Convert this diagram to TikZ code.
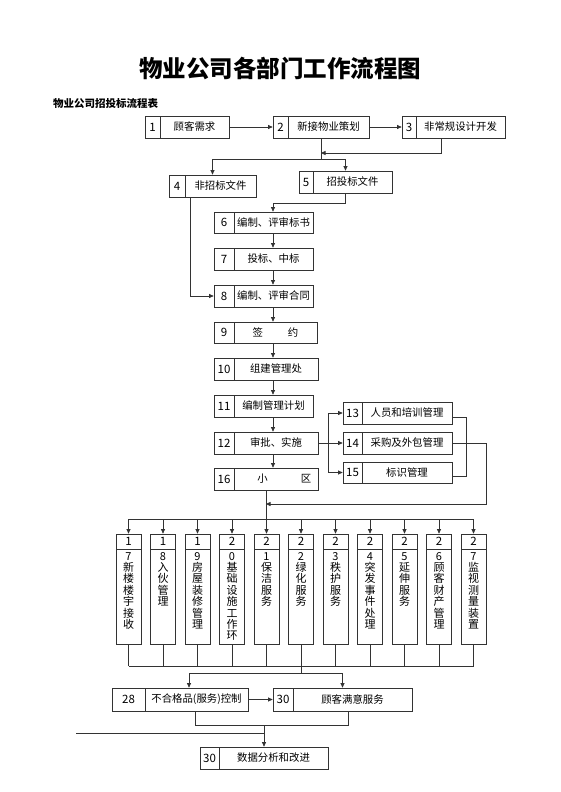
\documentclass[tikz,border=0pt]{standalone}
\usepackage{fontspec}
\setmainfont{Noto Sans CJK SC}
\usetikzlibrary{arrows.meta,calc}
\tikzset{
 ln/.style={line width=0.7pt, draw=black!80},
 arr/.style={ln, -{Triangle[length=4.5pt,width=4pt]}},
 boxst/.style={draw=black!80, line width=0.7pt, rectangle, inner sep=0pt, fill=white},
 txt/.style={inner sep=0pt, font=\fontsize{10.4}{12}\selectfont},
 numtxt/.style={inner sep=0pt, font=\fontsize{11.5}{12}\selectfont},
 vtxt/.style={inner sep=0pt, align=center, font=\fontsize{11}{11.4}\selectfont},
}
% name, x1, y1, x2, y2, xdiv, number, text
\newcommand\mkbox[8]{%
 \node[boxst, minimum width={#4-#2}, minimum height={#5-#3}] (#1) at ({(#2+#4)/2},{(#3+#5)/2}) {};
 \draw[ln] (#6,#3) -- (#6,#5);
 \node[numtxt] (#1n) at ({(#2+#6)/2},{(#3+#5)/2}) {#7};
 \node[txt] (#1t) at ({(#6+#4)/2},{(#3+#5)/2}) {#8};
}
% name, cx, digit, lines
\newcommand\mktall[4]{%
 \node[boxst, minimum width=25, minimum height=110] (#1) at (#2,589) {};
 \draw[ln] (#2-12.5,549) -- (#2+12.5,549);
 \node[numtxt] (#1d) at (#2,541.5) {#3};
 \begin{scope}
 \clip (#2-12,549.5) rectangle (#2+12,641);
 \node[vtxt, anchor=north] (#1t) at (#2,552) {#4};
 \end{scope}
}
\begin{document}
\begin{tikzpicture}[x=1pt,y=-1pt]
\useasboundingbox (0,0) rectangle (560,792);
\node[font=\fontsize{23.5}{26}\selectfont\bfseries] (title) at (280,68) {物业公司各部门工作流程图};
\node[font=\fontsize{10.5}{12}\selectfont\bfseries, anchor=west, inner sep=0pt] (sub) at (53,104) {物业公司招投标流程表};

\mkbox{b1}{145}{116}{229}{138}{160}{1}{顾客需求}
\mkbox{b2}{273}{116}{369}{138}{288}{2}{新接物业策划}
\mkbox{b3}{402}{116}{505}{138}{416}{3}{非常规设计开发}
\mkbox{b4}{169}{175}{256}{197}{185}{4}{非招标文件}
\mkbox{b5}{299}{171}{392}{193}{313}{5}{招投标文件}
\mkbox{b6}{214}{212}{313}{233}{234}{6}{编制、评审标书}
\mkbox{b7}{214}{248}{313}{270}{234}{7}{投标、中标}
\mkbox{b8}{214}{285}{313}{307}{234}{8}{编制、评审合同}
\mkbox{b9}{214}{322}{317}{343}{234}{9}{签\hspace{2.4em}约}
\mkbox{b10}{214}{358}{318}{380}{234}{10}{组建管理处}
\mkbox{b11}{214}{395}{313}{417}{234}{11}{编制管理计划}
\mkbox{b12}{214}{432}{318}{454}{234}{12}{审批、实施}
\mkbox{b16}{214}{468}{318}{490}{234}{16}{\hspace{1.6em}小\hspace{3.2em}区}
\mkbox{b13}{343}{402}{452}{424}{362}{13}{人员和培训管理}
\mkbox{b14}{343}{432}{452}{454}{362}{14}{采购及外包管理}
\mkbox{b15}{343}{462}{452}{483}{362}{15}{标识管理}

\mktall{t17}{128.5}{1}{7\\新\\楼\\楼\\宇\\接\\收}
\mktall{t18}{163}{1}{8\\入\\伙\\管\\理}
\mktall{t19}{197.5}{1}{9\\房\\屋\\装\\修\\管\\理}
\mktall{t20}{232}{2}{0\\基\\础\\设\\施\\工\\作\\环}
\mktall{t21}{266.5}{2}{1\\保\\洁\\服\\务}
\mktall{t22}{301}{2}{2\\绿\\化\\服\\务}
\mktall{t23}{335.5}{2}{3\\秩\\护\\服\\务}
\mktall{t24}{370}{2}{4\\突\\发\\事\\件\\处\\理}
\mktall{t25}{404.5}{2}{5\\延\\伸\\服\\务}
\mktall{t26}{439}{2}{6\\顾\\客\\财\\产\\管\\理}
\mktall{t27}{473.5}{2}{7\\监\\视\\测\\量\\装\\置}

\mkbox{b28}{112}{688}{248}{711}{145}{28}{不合格品(服务)控制}
\mkbox{b30}{273}{688}{412}{711}{293}{30}{顾客满意服务}
\mkbox{b31}{200}{747}{328}{769}{219}{30}{数据分析和改进}

% coordinates
\coordinate (j1) at (321,159);
\coordinate (j3) at (321,153);
\coordinate (cx) at (273,0);
\coordinate (c4) at (190,0);
\coordinate (j5) at (273,203);
\coordinate (jv) at (328,443);
\coordinate (y504) at (0,504);
\coordinate (br) at (0,519);
\coordinate (bb) at (0,666);
\coordinate (j22) at (301,673);
\coordinate (jlow) at (0,725);
\coordinate (lf) at (76,733);

% top connectors
\draw[arr] (b1.east) -- (b2.west);
\draw[arr] (b2.east) -- (b3.west);
\draw[ln] (b2.south) -- (j1);
\draw[arr] ([xshift=-12pt]b3.south) |- (j3);
\draw[arr] (j1) -| (b4.north);
\draw[arr] (j1) -| (b5.north);
\draw[arr] (b5.south) |- (j5) -- (b6.north -| cx);
\draw[arr] (b4.south -| c4) |- (b8.west);
\draw[arr] (b6.south -| cx) -- (b7.north -| cx);
\draw[arr] (b7.south -| cx) -- (b8.north -| cx);
\draw[arr] (b8.south -| cx) -- (b9.north -| cx);
\draw[arr] (b9.south -| cx) -- (b10.north -| cx);
\draw[arr] (b10.south -| cx) -- (b11.north -| cx);
\draw[arr] (b11.south -| cx) -- (b12.north -| cx);
\draw[arr] (b12.south -| cx) -- (b16.north -| cx);
% right group
\draw[arr] (b12.east) -- (b14.west);
\draw[ln] (b13.west -| jv) -- (b15.west -| jv);
\draw[arr] (b13.west -| jv) -- (b13.west);
\draw[arr] (b15.west -| jv) -- (b15.west);
\draw[ln] ([yshift=-4pt]b13.east) -- ++(14,0) |- ([yshift=-3.5pt]b15.east);
\draw[arr] (b14.east) -- ++(34,0) |- (y504 -| b16.south);
% branch
\draw[ln] (b16.south) -- (br -| b16.south);
\draw[ln] (br -| t17.north) -- (br -| t27.north);
\foreach \t in {t17,t18,t19,t20,t21,t22,t23,t24,t25,t26,t27}{
 \draw[arr] (br -| \t.north) -- (\t.north);
 \draw[ln] (\t.south) -- (bb -| \t.south);
}
\draw[ln] (bb -| t17.south) -- (bb -| t27.south);
\draw[ln] (bb -| j22) -- (j22);
\draw[arr] (j22) -| ([xshift=9pt]b28.north);
\draw[arr] (j22) -| (b30.north);
\draw[arr] (b28.east) -- (b30.west);
\draw[ln] ([xshift=15pt]b28.south) |- (jlow -| b31.north);
\draw[ln] ([xshift=5.5pt]b30.south) |- (jlow -| b31.north);
\draw[arr] (jlow -| b31.north) -- (b31.north);
\draw[ln] (lf) -- (lf -| b31.north);
\end{tikzpicture}
\end{document}
